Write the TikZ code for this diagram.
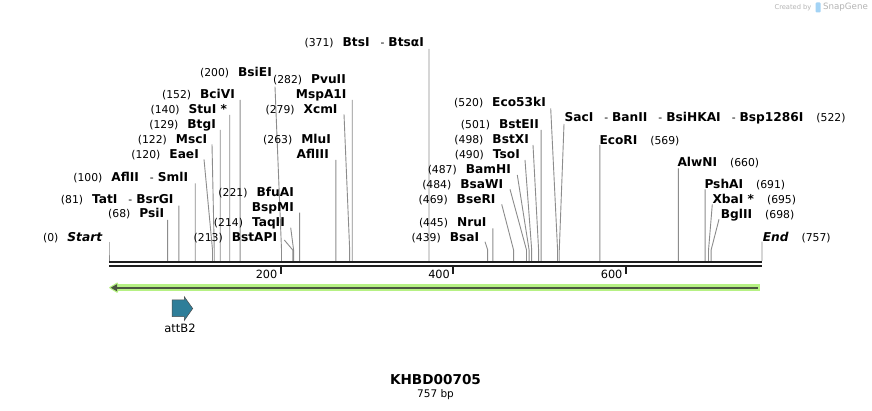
\documentclass[tikz,border=0pt]{standalone}
\usepackage{fontspec}
\setmainfont{DejaVu Sans}
\definecolor{cutgray}{HTML}{8C8C8C}
\definecolor{bbblack}{HTML}{1E1E1E}
\definecolor{featgreen}{HTML}{B6F184}
\definecolor{featdark}{HTML}{4A5540}
\definecolor{attteal}{HTML}{2F7E99}
\definecolor{logogray}{HTML}{B4B4B4}
\definecolor{logoblue}{HTML}{A3D3F5}
\newcommand\nm[1]{{\fontsize{12.2}{13}\selectfont\bfseries #1}}
\newcommand\gap{\hspace{9pt}}
\newcommand\rgap{\hspace{13pt}}
\newcommand\dsh{\hspace{11pt}-\hspace{4pt}}
\newcommand\lblL[4]{\node[lbl,anchor=base east] (#1) at (#2,#3+4.4) {#4};}
\newcommand\lblR[4]{\node[lbl,anchor=base west] (#1) at (#2,#3+4.4) {#4};}
\newcommand\cutline[4]{%
  \coordinate (#1s) at (#2,#3);
  \coordinate (#1k) at ({109+#4*0.86262},250);
  \coordinate (#1b) at ({109+#4*0.86262},261);
  \draw[cut] (#1s) -- (#1k) -- (#1b);}
\begin{document}
\begin{tikzpicture}[x=1pt,y=-1pt,
  lbl/.style={inner sep=0pt,font=\fontsize{10.8}{12}\selectfont},
  cut/.style={draw=cutgray,line width=0.9pt},
  tickmark/.style={draw=bbblack,line width=1.8pt},
  ticklbl/.style={inner sep=0pt,anchor=base east,font=\fontsize{11.3}{12}\selectfont}]
\useasboundingbox[fill=white] (0,0) rectangle (872,411);

% logo
\node[inner sep=0pt,text=logogray,font=\fontsize{6.7}{7}\selectfont] (logoA) at (793,7.5) {Created by};
\fill[logoblue,rounded corners=1pt] (815.5,2.5) rectangle (820.5,12.5);
\node[inner sep=0pt,text=logogray,font=\fontsize{8.7}{9}\selectfont] (logoB) at (845.5,7.5) {SnapGene};

% connectors
\cutline{lStart}{109}{241.7}{0}
\cutline{lPsiI}{167.66}{220}{68}
\cutline{lTatI}{178.87}{205.7}{81}
\cutline{lAflII}{195.26}{183.3}{100}
\cutline{lEaeI}{204}{159.3}{120}
\cutline{lMscI}{212}{144.3}{122}
\cutline{lBtgI}{220.28}{130}{129}
\cutline{lStuI}{229.77}{115}{140}
\cutline{lBciVI}{240.12}{100}{152}
\cutline{lBsiEI}{275}{86.7}{200}
\cutline{lBstAPI}{284.3}{240}{213}
\cutline{lTaqII}{290.7}{227.7}{214}
\cutline{lBspMI}{299.64}{212.7}{221}
\cutline{lAflIII}{335.87}{160}{263}
\cutline{lXcmI}{344}{114.3}{279}
\cutline{lMspA}{352.26}{100}{282}
\cutline{lBtsI}{429.03}{49}{371}
\cutline{lBsaI}{485}{241.7}{439}
\cutline{lNruI}{492.87}{228.3}{445}
\cutline{lBseRI}{501.7}{204.3}{469}
\cutline{lBsaWI}{510}{189.3}{484}
\cutline{lBamHI}{517.3}{175}{487}
\cutline{lTsoI}{525}{160}{490}
\cutline{lBstXI}{533}{145}{498}
\cutline{lBstEII}{541.17}{130}{501}
\cutline{lEco}{550.7}{108.3}{520}
\cutline{lSacI}{564}{124}{522}
\cutline{lEcoRI}{599.83}{145}{569}
\cutline{lAlwNI}{678.33}{168.3}{660}
\cutline{lPshAI}{705.07}{189.3}{691}
\cutline{lXbaI}{712.3}{204.3}{695}
\cutline{lBglII}{719}{219.3}{698}
\cutline{lEnd}{762}{241.7}{757}

% labels (left side)
\lblL{lStart}{102.3}{236.7}{(0)\gap\nm{\itshape Start}}
\lblL{lPsiI}{164.3}{213.3}{(68)\gap\nm{PsiI}}
\lblL{lTatI}{173.7}{199}{(81)\gap\nm{TatI}\dsh\nm{BsrGI}}
\lblL{lAflII}{188.3}{176.7}{(100)\gap\nm{AflII}\dsh\nm{SmlI}}
\lblL{lEaeI}{199}{154}{(120)\gap\nm{EaeI}}
\lblL{lMscI}{207.3}{139}{(122)\gap\nm{MscI}}
\lblL{lBtgI}{216}{124}{(129)\gap\nm{BtgI}}
\lblL{lStuI}{227.3}{109}{(140)\gap\nm{StuI *}}
\lblL{lBciVI}{235}{94}{(152)\gap\nm{BciVI}}
\lblL{lBsiEI}{272}{72.3}{(200)\gap\nm{BsiEI}}
\lblL{lBstAPI}{277.3}{236.7}{(213)\gap\nm{BstAPI}}
\lblL{lTaqII}{285}{222.3}{(214)\gap\nm{TaqII}}
\lblL{lBfuAI}{294}{192.3}{(221)\gap\nm{BfuAI}}
\lblL{lBspMI}{294}{206.7}{\nm{BspMI}}
\lblL{lMluI}{331}{139}{(263)\gap\nm{MluI}}
\lblL{lAflIII}{329}{154}{\nm{AflIII}}
\lblL{lXcmI}{337.7}{109.3}{(279)\gap\nm{XcmI}}
\lblL{lPvuII}{346}{79}{(282)\gap\nm{PvuII}}
\lblL{lMspA}{346.7}{94}{\nm{MspA1I}}
\lblL{lBtsI}{424}{42.3}{(371)\gap\nm{BtsI}\dsh\nm{BtsαI}}
\lblL{lBsaI}{479.3}{237.3}{(439)\gap\nm{BsaI}}
\lblL{lNruI}{486.7}{222.3}{(445)\gap\nm{NruI}}
\lblL{lBseRI}{495.7}{199}{(469)\gap\nm{BseRI}}
\lblL{lBsaWI}{503.3}{184}{(484)\gap\nm{BsaWI}}
\lblL{lBamHI}{511}{169}{(487)\gap\nm{BamHI}}
\lblL{lTsoI}{520}{154}{(490)\gap\nm{TsoI}}
\lblL{lBstXI}{529}{139}{(498)\gap\nm{BstXI}}
\lblL{lBstEII}{539}{124}{(501)\gap\nm{BstEII}}
\lblL{lEco}{546}{102.3}{(520)\gap\nm{Eco53kI}}
% labels (right side)
\lblR{lSacI}{564.3}{117.3}{\nm{SacI}\dsh\nm{BanII}\dsh\nm{BsiHKAI}\dsh\nm{Bsp1286I}\rgap(522)}
\lblR{lEcoRI}{599.3}{140}{\nm{EcoRI}\rgap(569)}
\lblR{lAlwNI}{677.3}{162.3}{\nm{AlwNI}\rgap(660)}
\lblR{lPshAI}{704.3}{184.3}{\nm{PshAI}\rgap(691)}
\lblR{lXbaI}{712.3}{199}{\nm{XbaI *}\rgap(695)}
\lblR{lBglII}{720.7}{214.3}{\nm{BglII}\rgap(698)}
\lblR{lEnd}{762.7}{236.7}{\nm{\itshape End}\rgap(757)}

% backbone
\coordinate (bbL1) at (109,262.2); \coordinate (bbR1) at (762,262.2);
\coordinate (bbL2) at (109,266.3); \coordinate (bbR2) at (762,266.3);
\draw[bbblack,line width=2.4pt] (bbL1) -- (bbR1);
\draw[bbblack,line width=2pt] (bbL2) -- (bbR2);

% ticks
\foreach \v/\n in {200/t200,400/t400,600/t600}{
  \coordinate (\n) at ({109+\v*0.86262-0.8},267.3);
  \draw[tickmark] (\n) -- ++(0,7);
  \node[ticklbl] (\n l) at ({109+\v*0.86262-4},278.3) {\v};
}

% feature arrow (reverse strand)
\coordinate (fL) at (116,287.7); \coordinate (fR) at (760,287.7);
\draw[featgreen,line width=6.7pt] (fL) -- (fR);
\filldraw[fill=featdark,draw=featgreen,line width=1.6pt,line join=round] (110,287.7) -- (117.2,283.4) -- (117.2,292) -- cycle;
\draw[featdark,line width=1.9pt] (116.5,287.7) -- (758,287.7);
\fill[featdark] (110.8,287.7) -- (117.2,284) -- (117.2,291.4) -- cycle;

% attB2
\draw[fill=attteal,draw=black!70,line width=0.5pt] (172,300) -- (184.3,300) -- (184.3,296.7) -- (192.7,308.5) -- (184.3,320.5) -- (184.3,316.7) -- (172,316.7) -- cycle;
\node[inner sep=0pt,font=\fontsize{11.5}{12}\selectfont] (attB2) at (180,328.5) {attB2};

% title
\node[inner sep=0pt,font=\fontsize{13.6}{14}\selectfont\bfseries] (title) at (435.5,380) {KHBD00705};
\node[inner sep=0pt,font=\fontsize{10.5}{11}\selectfont] (size) at (435.5,394.3) {757 bp};
\end{tikzpicture}
\end{document}
